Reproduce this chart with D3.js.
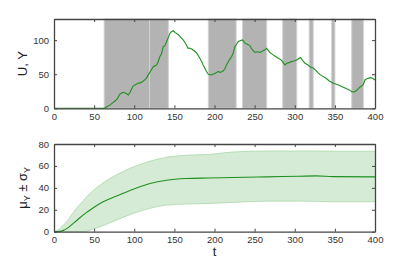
<!DOCTYPE html>
<html>
<head>
<meta charset="utf-8">
<script src="https://cdn.jsdelivr.net/npm/d3@7"></script>
<style>
  body { margin: 0; background: #fff; }
  text { font-family: "Liberation Sans", Arial, sans-serif; }
</style>
</head>
<body>
<div id="chart"></div>
<script>
// top panel: U, Y trace
const traceT = [0, 62, 63.6, 67, 70, 73, 76, 79, 82, 84, 86, 89, 92.6, 95, 96.5, 98.8, 102, 105, 109, 113, 115, 117.5, 120, 123.8, 126, 128, 130, 132, 134, 136, 138, 140.4, 142.5, 144.5, 146, 148.6, 151, 155, 158, 161, 164, 167, 169, 171.6, 175, 177.8, 181, 184, 186, 188, 190, 192.3, 194, 196.5, 199, 202, 204.7, 207, 209, 211, 213, 215, 218, 221.4, 223.5, 225.5, 227.5, 229.7, 232.6, 235, 238, 241, 244, 247, 250.5, 253, 256.7, 260, 262, 265, 269, 273, 276, 279.5, 283, 285, 287.8, 290, 293, 296, 299, 302.4, 305, 307.3, 310, 312.8, 316, 319, 321, 323, 326, 329, 332, 335.6, 339, 343, 348, 352, 356, 360.5, 364, 368, 371, 374, 377, 379, 381, 383.4, 385.5, 387.5, 390, 394, 397, 400];
const traceY = [0, 0, 0.9, 3, 5, 8, 10.7, 14, 20.6, 22, 23.5, 22.5, 19.6, 24, 28, 33, 35, 36.7, 38, 41.6, 44, 49, 54, 61, 62.5, 63.7, 69, 76, 80, 90.6, 91.5, 98, 104, 110, 112, 113.7, 111, 108, 104, 100.4, 95, 88, 88.5, 87, 84, 81, 75, 68.5, 63, 58.8, 54, 50, 49.5, 49, 50.5, 52, 54, 52.5, 53.5, 55, 58, 63.7, 70, 76, 82, 90.6, 94, 98, 99.5, 100.4, 95.6, 94, 92, 86, 82, 83, 82, 84, 85, 88, 82, 78.4, 76, 73.5, 71, 68, 63.7, 66, 67, 68.5, 69.5, 71, 73, 74.5, 70, 66, 64, 61, 60, 59, 56, 52, 49, 46.5, 44, 40, 36.7, 35.3, 33.5, 31, 29, 27, 24.4, 24, 26, 28.4, 31, 32.8, 35, 41.6, 43.5, 45, 44, 41.6];

// shaded intervals in the top panel
const shadeStart = [62.5, 119, 192.3, 235, 285, 318, 346, 371];
const shadeEnd = [119, 142.5, 227, 265, 302.5, 323, 350, 385.5];

// bottom panel: mean and mean +/- sd
const bandT = [0, 7.5, 11.6, 15.8, 24, 28, 38.6, 40.7, 57.3, 78, 98.8, 119.6, 140.4, 165, 192, 223, 265, 306, 327, 348, 400];
const meanY = [0, 0.3, 1.2, 2.8, 7.6, 10, 16.5, 17.6, 25.8, 32.5, 38.8, 44, 47, 48.5, 49, 49.4, 50, 50.6, 50.9, 50.2, 50];
const upperY = [0, 3, 6, 9, 17.5, 21.3, 30, 31.8, 42.5, 52, 59, 64.3, 67.9, 69.7, 70.4, 72.7, 73.6, 73.6, 73.6, 73.4, 73.4];
const lowerY = [0, 0, 0, 0, 0, 0, 0, 0.5, 4.5, 10.6, 16.7, 21.3, 24.3, 25.2, 25.8, 26.7, 27.9, 27.9, 27.7, 27.3, 27.3];

const xTicks = [0, 50, 100, 150, 200, 250, 300, 350, 400];
const topTicks = [0, 50, 100];
const bottomTicks = [0, 20, 40, 60, 80];

const W = 415, H = 261;
const left = 54, right = 375;
const topPanel = { y0: 19, y1: 108.3, domain: [0, 131] };
const botPanel = { y0: 144, y1: 231.7, domain: [0, 80] };

const svg = d3.select("#chart").append("svg")
    .attr("width", W)
    .attr("height", H);

const x = d3.scaleLinear().domain([0, 400]).range([left, right]);
const yTop = d3.scaleLinear().domain(topPanel.domain).range([topPanel.y1, topPanel.y0]);
const yBot = d3.scaleLinear().domain(botPanel.domain).range([botPanel.y1, botPanel.y0]);

const axisColor = "#444";
const green = "#1f8f1f";

// shaded regions
svg.append("g").selectAll("rect")
    .data(shadeStart.map((s, i) => [s, shadeEnd[i]]))
    .enter()
    .append("rect")
    .attr("x", d => x(d[0]))
    .attr("y", topPanel.y0)
    .attr("width", d => x(d[1]) - x(d[0]))
    .attr("height", topPanel.y1 - topPanel.y0)
    .attr("fill", "#b3b3b3")
    .attr("stroke", "#d2d2d2")
    .attr("stroke-width", 1);

// trace line
const traceData = traceT.map((t, i) => [t, traceY[i]]);
svg.append("path")
    .datum(traceData)
    .attr("fill", "none")
    .attr("stroke", green)
    .attr("stroke-width", 1.1)
    .attr("d", d3.line().x(d => x(d[0])).y(d => yTop(d[1])));

// band
const bandData = bandT.map((t, i) => ({ t: t, m: meanY[i], lo: lowerY[i], hi: upperY[i] }));
svg.append("path")
    .datum(bandData)
    .attr("fill", "#d6ebd6")
    .attr("d", d3.area().x(d => x(d.t)).y0(d => yBot(d.lo)).y1(d => yBot(d.hi)).curve(d3.curveMonotoneX));
["hi", "lo"].forEach(k => {
    svg.append("path")
        .datum(bandData)
        .attr("fill", "none")
        .attr("stroke", "#a9d7a9")
        .attr("stroke-width", 0.8)
        .attr("d", d3.line().x(d => x(d.t)).y(d => yBot(d[k])).curve(d3.curveMonotoneX));
});
svg.append("path")
    .datum(bandData)
    .attr("fill", "none")
    .attr("stroke", green)
    .attr("stroke-width", 1.1)
    .attr("d", d3.line().x(d => x(d.t)).y(d => yBot(d.m)).curve(d3.curveMonotoneX));

// axes with boxed frame and inward ticks
function drawFrame(p, yScale, yTicks) {
    const g = svg.append("g");
    g.append("g")
        .attr("transform", "translate(0," + p.y1 + ")")
        .call(d3.axisBottom(x).tickValues(xTicks).tickSizeInner(-3).tickSizeOuter(0).tickPadding(5));
    g.append("g")
        .attr("transform", "translate(0," + p.y0 + ")")
        .call(d3.axisTop(x).tickValues(xTicks).tickSizeInner(-3).tickSizeOuter(0).tickFormat(""));
    g.append("g")
        .attr("transform", "translate(" + left + ",0)")
        .call(d3.axisLeft(yScale).tickValues(yTicks).tickSizeInner(-3).tickSizeOuter(0).tickPadding(5));
    g.append("g")
        .attr("transform", "translate(" + right + ",0)")
        .call(d3.axisRight(yScale).tickValues(yTicks).tickSizeInner(-3).tickSizeOuter(0).tickFormat(""));
    g.selectAll(".domain").attr("stroke", axisColor).attr("stroke-width", 1.3);
    g.selectAll(".tick line").attr("stroke", axisColor);
    g.selectAll(".tick text").attr("fill", "#333").style("font-size", "9.5px");
}
drawFrame(topPanel, yTop, topTicks);
drawFrame(botPanel, yBot, bottomTicks);

// axis titles
svg.append("text")
    .attr("transform", "translate(27," + ((topPanel.y0 + topPanel.y1) / 2) + ")rotate(-90)")
    .attr("text-anchor", "middle")
    .style("font-size", "13px")
    .attr("fill", "#222")
    .text("U, Y");

const muLabel = svg.append("text")
    .attr("transform", "translate(27," + ((botPanel.y0 + botPanel.y1) / 2) + ")rotate(-90)")
    .attr("text-anchor", "middle")
    .style("font-size", "13px")
    .attr("fill", "#222");
muLabel.append("tspan").text("μ");
muLabel.append("tspan").attr("dy", 3).style("font-size", "9px").text("Y");
muLabel.append("tspan").attr("dy", -3).text(" ± σ");
muLabel.append("tspan").attr("dy", 3).style("font-size", "9px").text("Y");

svg.append("text")
    .attr("x", (left + right) / 2)
    .attr("y", 256)
    .attr("text-anchor", "middle")
    .style("font-size", "13px")
    .attr("fill", "#222")
    .text("t");
</script>
</body>
</html>
